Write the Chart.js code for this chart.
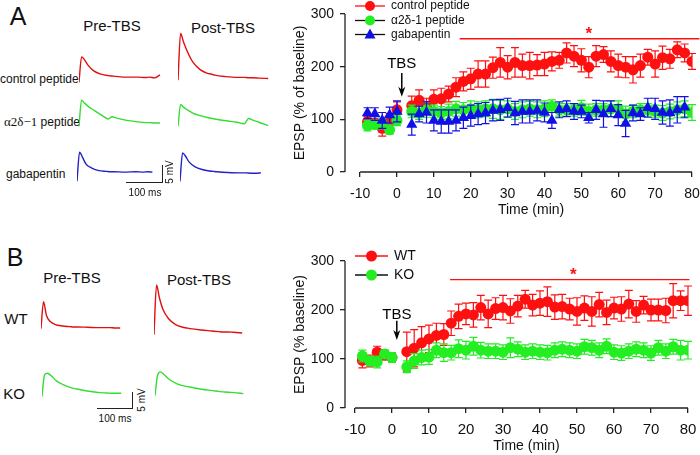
<!DOCTYPE html>
<html>
<head>
<meta charset="utf-8">
<script src="https://cdn.jsdelivr.net/npm/chart.js@4.4.1/dist/chart.umd.min.js"></script>
<style>
body { margin: 0; background: #fff; font-family: 'Liberation Sans', Arial, sans-serif; color: #111; }
#page { position: relative; width: 700px; height: 455px; overflow: hidden; }
#page canvas, .txt, .bar { position: absolute; }
.txt { white-space: nowrap; line-height: 1; }
.c { transform: translate(-50%, -50%); }
.l { transform: translateY(-50%); }
.bar { background: #222; }
.serif { font-family: 'Liberation Serif', 'Times New Roman', serif; font-size: 13px; }
</style>
</head>
<body>
<div id="page">
  <!-- panel A, traces -->
  <div class="txt c" style="left:18px;top:16px;font-size:25px">A</div>
  <div class="txt c" style="left:112px;top:25px;font-size:15px">Pre-TBS</div>
  <div class="txt c" style="left:223px;top:27px;font-size:15px">Post-TBS</div>
  <div class="txt l" style="left:0px;top:79px;font-size:12px">control peptide</div>
  <div class="txt l" style="left:4px;top:121px;font-size:12px"><span class="serif">α2δ−1</span> peptide</div>
  <div class="txt l" style="left:6px;top:174px;font-size:12px">gabapentin</div>
  <canvas id="ctrlPre" width="92" height="59" style="left:79px;top:27px"></canvas>
  <canvas id="ctrlPost" width="92" height="59" style="left:178px;top:25px"></canvas>
  <canvas id="a2dPre" width="92" height="59" style="left:79px;top:71px"></canvas>
  <canvas id="a2dPost" width="92" height="59" style="left:178px;top:71px"></canvas>
  <canvas id="gabaPre" width="92" height="59" style="left:77px;top:126px"></canvas>
  <canvas id="gabaPost" width="92" height="59" style="left:180px;top:126px"></canvas>
  <div class="bar" style="left:126px;top:182px;width:37px;height:1px"></div>
  <div class="bar" style="left:162px;top:165px;width:1px;height:18px"></div>
  <div class="txt c" style="left:145px;top:193px;font-size:10px">100 ms</div>
  <div class="txt c" style="left:170px;top:172px;font-size:10px;transform:translate(-50%,-50%) rotate(-90deg)">5 mV</div>

  <!-- panel B, traces -->
  <div class="txt c" style="left:15px;top:257px;font-size:25px">B</div>
  <div class="txt c" style="left:72px;top:277px;font-size:15px">Pre-TBS</div>
  <div class="txt c" style="left:199px;top:279px;font-size:15px">Post-TBS</div>
  <div class="txt c" style="left:16px;top:318px;font-size:15px">WT</div>
  <div class="txt c" style="left:14px;top:393px;font-size:15px">KO</div>
  <canvas id="wtPre" width="90" height="57" style="left:41px;top:275px"></canvas>
  <canvas id="wtPost" width="90" height="57" style="left:154px;top:281px"></canvas>
  <canvas id="koPre" width="90" height="57" style="left:42px;top:343px"></canvas>
  <canvas id="koPost" width="90" height="57" style="left:155px;top:342px"></canvas>
  <div class="bar" style="left:97px;top:408px;width:36px;height:1px"></div>
  <div class="bar" style="left:132px;top:392px;width:1px;height:17px"></div>
  <div class="txt c" style="left:115px;top:419px;font-size:10px">100 ms</div>
  <div class="txt c" style="left:142px;top:400px;font-size:10px;transform:translate(-50%,-50%) rotate(-90deg)">5 mV</div>

  <!-- time courses -->
  <canvas id="chartA" width="420" height="225" style="left:280px;top:0px"></canvas>
  <canvas id="chartB" width="420" height="225" style="left:280px;top:230px"></canvas>
</div>

<script>
// ---- time course data (min, % of baseline) ----
const sessionTime = [-8, -6, -4, -2, 0, 4, 6, 8, 10, 12, 14, 16, 18, 20, 22, 24, 26, 28, 30, 32, 34, 36,
    38, 40, 42, 44, 46, 48, 50, 52, 54, 56, 58, 60, 62, 64, 66, 68, 70, 72, 74, 76, 78, 80];

// panel A
const ctrlEpsp = [95, 93, 83, 101, 118, 126, 136, 125, 138, 139, 148, 161, 172, 177, 186, 186, 198, 208, 199, 208, 202, 202,
    203, 205, 210, 212, 226, 220, 212, 199, 220, 223, 210, 202, 199, 194, 202, 218, 205, 217, 215, 232, 226, 210];
const ctrlErr = [10, 8, 15, 10, 15, 18, 20, 15, 18, 20, 15, 18, 18, 20, 25, 25, 20, 28, 22, 28, 22, 25,
    20, 22, 18, 15, 19, 20, 22, 20, 20, 15, 20, 22, 20, 25, 22, 15, 25, 22, 18, 15, 17, 15];
const a2dEpsp = [88, 90, 92, 80, 98, 115, 112, 118, 115, 112, 115, 120, 118, 120, 118, 120, 120, 118, 120, 115, 118, 120,
    118, 120, 125, 118, 118, 118, 122, 115, 118, 118, 120, 120, 110, 115, 118, 118, 115, 112, 115, 118, 120, 113];
const a2dErr = [10, 8, 10, 8, 10, 12, 12, 14, 12, 12, 14, 14, 14, 15, 15, 15, 18, 18, 15, 15, 15, 14,
    15, 15, 12, 12, 12, 12, 14, 14, 12, 12, 15, 15, 15, 12, 12, 12, 12, 14, 14, 15, 15, 15];
const gabaEpsp = [112, 110, 98, 108, 115, 90, 110, 113, 98, 96, 96, 98, 103, 107, 110, 112, 117, 118, 122, 112, 115, 115,
    117, 113, 98, 118, 120, 115, 115, 103, 118, 110, 120, 108, 92, 112, 110, 122, 120, 113, 112, 118, 123, null];
const gabaErr = [10, 12, 15, 15, 20, 20, 15, 20, 20, 22, 22, 20, 20, 20, 20, 20, 20, 20, 18, 22, 22, 22,
    20, 18, 15, 15, 15, 15, 12, 10, 18, 25, 15, 20, 25, 15, 12, 18, 20, 22, 25, 25, 20, null];
const sigA = { from: 17, to: 82, level: 253, starAt: 52, starLevel: 273 };

// panel B
const wtEpsp = [97, 96, 114, 108, 103, 115, 122, 133, 141, 148, 150, 173, 187, 192, 190, 205, 192, 203, 205, 198, 208, 222,
    210, 214, 217, 206, 207, 202, 197, 204, 197, 211, 195, 204, 202, 212, 197, 210, 200, 200, 199, 219, 219, 219];
const wtErr = [15, 12, 12, 10, 10, 40, 38, 33, 28, 25, 22, 25, 25, 22, 25, 25, 28, 22, 25, 25, 22, 18,
    22, 25, 30, 25, 25, 22, 28, 25, 30, 25, 25, 22, 25, 28, 22, 18, 22, 22, 25, 35, 20, 30];
const koEpsp = [106, 96, 94, 110, 103, 84, 96, 103, 104, 118, 113, 113, 121, 118, 126, 118, 116, 116, 114, 123, 120, 114,
    116, 114, 113, 118, 120, 118, 116, 125, 123, 118, 126, 114, 112, 116, 120, 118, 112, 123, 116, 125, 118, 118];
const koErr = [12, 10, 12, 8, 10, 12, 15, 15, 15, 15, 18, 15, 18, 18, 18, 16, 15, 15, 15, 20, 15, 15,
    15, 15, 15, 15, 15, 15, 15, 15, 15, 15, 15, 15, 15, 15, 15, 15, 15, 15, 15, 15, 20, 18];
const sigB = { from: 15.7, to: 80.4, level: 262, starAt: 49, starLevel: 284 };

const tbsTime = 1.3;
const yTicks = [0, 100, 200, 300];
const xTicks = [-10, 0, 10, 20, 30, 40, 50, 60, 70, 80];

// ---- example traces (ms, mV above baseline) ----
const traceMs = [0, 7, 15, 25, 40, 60, 80, 90, 100, 130, 160, 180, 192, 205, 220, 245];
const ctrlPre = [0, 6.9, 6.1, 4.6, 3.1, 2.2, 1.8, 1.7, 1.6, 1.4, 1.4, 1.3, 1.4, 1.2, 2.0];
const ctrlPost = [0, 12.7, 10.4, 7.9, 5.0, 2.9, 1.9, 1.7, 1.4, 1.0, 0.8, 0.8, 0.7, 0.7, 0.6, 0.5];
const a2dPre = [0, 7.1, 6.3, 5.4, 4.4, 3.1, 2.0, 2.6, 2.3, 1.6, 1.2, 1.0, 1.0, 0.9, 0.9];
const a2dPost = [0, 5.9, 5.2, 4.5, 3.6, 2.9, 2.4, 2.2, 2.0, 1.5, 1.1, 0.7, 2.1, 1.6, 1.1, 0.2];
const gabaPre = [0, 7.9, 6.5, 4.6, 3.6, 2.9, 2.7, 2.6, 2.6, 2.5, 2.6, 2.5, 2.6, 2.5];
const gabaPost = [0, 7.7, 6.8, 5.2, 4.0, 3.2, 2.8, 2.7, 2.6, 2.4, 2.3, 2.3, 2.2, 2.2, 2.3];
const wtPre = [0, 8.0, 4.0, 2.2, 1.2, 0.8, 0.6, 0.5, 0.5, 0.4, 0.3, 0.3, 0.3, 0.2, 0.2];
const wtPost = [0, 14.8, 11.0, 7.5, 4.8, 3.0, 2.2, 2.0, 1.8, 1.4, 1.1, 0.9, 0.8, 0.8, 0.7, 0.5];
const koPre = [0, 6.5, 7.0, 6.3, 4.7, 3.5, 2.7, 2.4, 2.2, 1.6, 1.2, 1.1, 1.0, 1.0, 1.0];
const koPost = [0, 6.0, 7.1, 6.3, 4.8, 3.6, 2.9, 2.7, 2.5, 1.9, 1.5, 1.2, 1.1, 1.0, 0.9, 0.6];

const RED = '#ff1010', GREEN = '#22ee22', BLUE = '#1010e6';
const FONT = "'Liberation Sans', Arial, sans-serif";
Chart.defaults.font.family = FONT;
Chart.defaults.color = '#111';

// traces: hidden axes, same ms/mV scale in each little canvas
function trace(id, values, color, mvMax) {
    new Chart(document.getElementById(id), {
        type: 'line',
        data: { datasets: [{
            data: values.map((v, i) => ({ x: traceMs[i], y: v })),
            borderColor: color, borderWidth: 1.4, pointRadius: 0,
            cubicInterpolationMode: 'monotone', clip: false
        }] },
        options: {
            responsive: false, animation: false, events: [],
            plugins: { legend: { display: false }, tooltip: { enabled: false } },
            scales: {
                x: { type: 'linear', display: false, min: 0, max: 250 },
                y: { display: false, min: -1, max: mvMax }
            }
        }
    });
}
trace('ctrlPre', ctrlPre, '#e01010', 15);
trace('ctrlPost', ctrlPost, '#e01010', 15);
trace('a2dPre', a2dPre, '#33dd33', 15);
trace('a2dPost', a2dPost, '#33dd33', 15);
trace('gabaPre', gabaPre, '#2222c8', 15);
trace('gabaPost', gabaPost, '#2222c8', 15);
trace('wtPre', wtPre, '#e01010', 16);
trace('wtPost', wtPost, '#e01010', 16);
trace('koPre', koPre, '#33dd33', 16);
trace('koPost', koPost, '#33dd33', 16);

// error bars, drawn just under each dataset's own markers
const errorBars = {
    id: 'errorBars',
    beforeDatasetDraw(chart, args) {
        const ds = chart.data.datasets[args.index];
        if (!ds.err) return;
        const { ctx, scales: { x, y } } = chart;
        ctx.save();
        ctx.strokeStyle = ds.borderColor;
        ctx.lineWidth = 1.2;
        ds.data.forEach((p, i) => {
            const e = ds.err[i];
            if (p.y == null || e == null) return;
            const px = x.getPixelForValue(p.x);
            const top = y.getPixelForValue(p.y + e);
            const bot = y.getPixelForValue(p.y - e);
            ctx.beginPath();
            ctx.moveTo(px, top); ctx.lineTo(px, bot);
            ctx.moveTo(px - 4, top); ctx.lineTo(px + 4, top);
            ctx.moveTo(px - 4, bot); ctx.lineTo(px + 4, bot);
            ctx.stroke();
        });
        ctx.restore();
    }
};

function marker(ctx, shape, cx, cy, color, r) {
    ctx.fillStyle = color;
    ctx.beginPath();
    if (shape === 'triangle') {
        ctx.moveTo(cx, cy - 6); ctx.lineTo(cx + 5.5, cy + 4); ctx.lineTo(cx - 5.5, cy + 4);
        ctx.closePath();
    } else {
        ctx.arc(cx, cy, r, 0, Math.PI * 2);
    }
    ctx.fill();
}

// detached axes, x title, legend, TBS arrow, significance star
function decor(o) {
    return {
        id: 'decor',
        afterDraw(chart) {
            const { ctx, chartArea: a, scales: { x, y } } = chart;
            const x0 = x.getPixelForValue(xTicks[0]);
            const x1 = x.getPixelForValue(xTicks[xTicks.length - 1]);
            ctx.save();
            ctx.strokeStyle = '#222';
            ctx.lineWidth = 1.3;
            ctx.beginPath();
            ctx.moveTo(a.left, y.getPixelForValue(yTicks[0]));
            ctx.lineTo(a.left, y.getPixelForValue(yTicks[yTicks.length - 1]));
            ctx.moveTo(x0, a.bottom);
            ctx.lineTo(x1, a.bottom);
            ctx.stroke();

            ctx.fillStyle = '#111';
            ctx.font = '14px ' + FONT;
            ctx.textAlign = 'center';
            ctx.textBaseline = 'middle';
            ctx.fillText('Time (min)', (x0 + x1) / 2 + 5, a.bottom + 38);

            // legend
            o.legend.forEach((it, i) => {
                const ly = a.top + o.legendDy[i];
                ctx.strokeStyle = it.line;
                ctx.lineWidth = 1.3;
                ctx.beginPath();
                ctx.moveTo(a.left + 10, ly); ctx.lineTo(a.left + o.legendLen, ly);
                ctx.stroke();
                marker(ctx, it.shape, a.left + 10 + (o.legendLen - 10) / 2, ly, it.color, o.dot);
                ctx.fillStyle = '#111';
                ctx.font = o.legendFont + 'px ' + FONT;
                ctx.textAlign = 'left';
                ctx.fillText(it.text, a.left + o.legendLen + 6, ly);
            });

            // TBS arrow
            const tx = x.getPixelForValue(tbsTime);
            const tTop = y.getPixelForValue(o.tbs[0]);
            const tTip = y.getPixelForValue(o.tbs[1]);
            ctx.strokeStyle = '#000';
            ctx.fillStyle = '#000';
            ctx.lineWidth = 1.5;
            ctx.beginPath();
            ctx.moveTo(tx, tTop); ctx.lineTo(tx, tTip - 4);
            ctx.stroke();
            ctx.beginPath();
            ctx.moveTo(tx, tTip); ctx.lineTo(tx - 3.5, tTip - 10); ctx.lineTo(tx, tTip - 7); ctx.lineTo(tx + 3.5, tTip - 10);
            ctx.closePath();
            ctx.fill();
            ctx.font = '15px ' + FONT;
            ctx.textAlign = 'center';
            ctx.fillText('TBS', tx, y.getPixelForValue(o.tbs[2]));

            // significance star
            ctx.fillStyle = RED;
            ctx.font = 'bold 17px ' + FONT;
            ctx.fillText('*', x.getPixelForValue(o.sig.starAt), y.getPixelForValue(o.sig.starLevel) + 6);
            ctx.restore();
        }
    };
}

function series(label, values, err, color, shape, order, r) {
    return {
        label, err, order,
        data: values.map((v, i) => ({ x: sessionTime[i], y: v })),
        borderColor: color, backgroundColor: color,
        pointStyle: shape, pointRadius: shape === 'triangle' ? r + 1 : r,
        pointBorderWidth: 0, showLine: false
    };
}

function sigLine(sig) {
    return {
        data: [{ x: sig.from, y: sig.level }, { x: sig.to, y: sig.level }],
        showLine: true, borderColor: RED, borderWidth: 1.3, pointRadius: 0, clip: false, order: 0
    };
}

function timeCourse(id, datasets, o) {
    new Chart(document.getElementById(id), {
        type: 'scatter',
        data: { datasets },
        options: {
            responsive: false, animation: false, events: [],
            layout: { padding: { top: o.top, right: o.right, left: 0, bottom: 0 } },
            plugins: { legend: { display: false }, tooltip: { enabled: false } },
            scales: {
                x: {
                    type: 'linear', min: o.xMin, max: xTicks[xTicks.length - 1],
                    border: { display: false },
                    grid: { drawOnChartArea: false, tickLength: 5, color: '#222', lineWidth: 1.3 },
                    ticks: { stepSize: 10, includeBounds: false, padding: o.xPad, maxRotation: 0,
                        font: { size: o.xFont }, color: '#111' },
                    afterFit: s => { s.height = o.xHeight; s.paddingLeft = 0; s.paddingRight = 0; }
                },
                y: {
                    min: yTicks[0], max: yTicks[yTicks.length - 1],
                    border: { display: false },
                    grid: { drawOnChartArea: false, tickLength: 5, color: '#222', lineWidth: 1.3 },
                    ticks: { stepSize: 100, padding: 6, font: { size: 14 }, color: '#111' },
                    title: { display: true, text: o.yTitle, font: { size: 14 }, color: '#111', padding: { top: 12, bottom: 0 } },
                    afterFit: s => { s.width = 65; s.paddingTop = 0; s.paddingBottom = 0; }
                }
            }
        },
        plugins: [errorBars, decor(o)]
    });
}

timeCourse('chartA', [
    sigLine(sigA),
    series('control peptide', ctrlEpsp, ctrlErr, RED, 'circle', 3, 5.5),
    series('α2δ-1 peptide', a2dEpsp, a2dErr, GREEN, 'circle', 2, 5.5),
    series('gabapentin', gabaEpsp, gabaErr, BLUE, 'triangle', 1, 5.5)
], {
    top: 14, right: 8, xMin: -14.1, xHeight: 53, xPad: 9, xFont: 14,
    yTitle: 'EPSP (% of baseline)',
    legend: [
        { text: 'control peptide', color: RED, line: RED, shape: 'circle' },
        { text: 'α2δ-1 peptide', color: GREEN, line: '#111', shape: 'circle' },
        { text: 'gabapentin', color: BLUE, line: '#111', shape: 'triangle' }
    ],
    legendDy: [-8, 6.5, 20.5], legendLen: 40, legendFont: 12, dot: 5,
    tbs: [188, 143, 206], sig: sigA
});

timeCourse('chartB', [
    sigLine(sigB),
    series('WT', wtEpsp, wtErr, RED, 'circle', 2, 5.5),
    series('KO', koEpsp, koErr, GREEN, 'circle', 1, 5.5)
], {
    top: 31, right: 12, xMin: -12.7, xHeight: 47, xPad: 8, xFont: 15,
    yTitle: 'EPSP (% baseline)',
    legend: [
        { text: 'WT', color: RED, line: RED, shape: 'circle' },
        { text: 'KO', color: GREEN, line: '#111', shape: 'circle' }
    ],
    legendDy: [-5, 14], legendLen: 43, legendFont: 14, dot: 5.5,
    tbs: [178, 139, 190], sig: sigB
});
</script>
</body>
</html>
